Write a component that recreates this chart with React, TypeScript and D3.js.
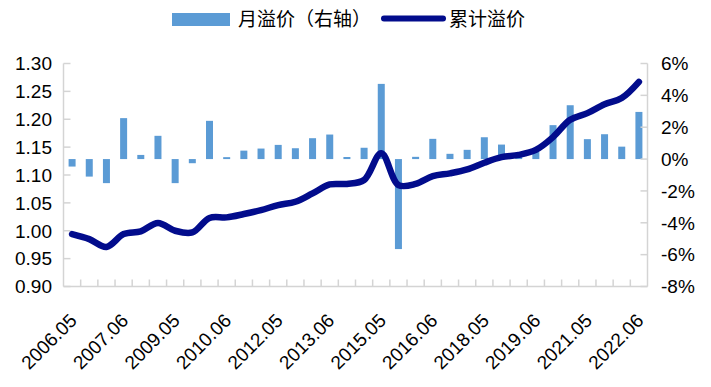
import * as d3 from "d3";
import { useEffect, useRef } from "react";

const categories = [
  "2006.05", "2006.06", "2007.05", "2007.06", "2008.05", "2008.06",
  "2009.05", "2009.06", "2010.05", "2010.06", "2011.05", "2011.06",
  "2012.05", "2012.06", "2013.05", "2013.06", "2014.05", "2014.06",
  "2015.05", "2015.06", "2016.05", "2016.06", "2017.05", "2017.06",
  "2018.05", "2018.06", "2019.05", "2019.06", "2020.05", "2020.06",
  "2021.05", "2021.06", "2022.05", "2022.06",
];

// monthly premium, % (right axis)
const monthly = [
  -0.47, -1.1, -1.51, 2.57, 0.26, 1.46, -1.51, -0.26, 2.4, 0.12, 0.53, 0.66,
  0.89, 0.68, 1.31, 1.54, 0.13, 0.71, 4.72, -5.65, 0.14, 1.27, 0.33, 0.58,
  1.37, 0.91, 0.28, 0.45, 2.13, 3.38, 1.25, 1.56, 0.78, 2.96,
];

// cumulative premium (left axis)
const cumulative = [
  0.994, 0.985, 0.971, 0.994, 0.999, 1.014, 1.0, 0.997, 1.023, 1.024, 1.03,
  1.037, 1.046, 1.052, 1.067, 1.083, 1.084, 1.091, 1.139, 1.082, 1.084, 1.098,
  1.103, 1.11, 1.122, 1.132, 1.136, 1.145, 1.168, 1.199, 1.211, 1.227, 1.238,
  1.267,
];

const leftTicks = [0.9, 0.95, 1.0, 1.05, 1.1, 1.15, 1.2, 1.25, 1.3];
const rightTicks = [-8, -6, -4, -2, 0, 2, 4, 6];
const labelEvery = 3;

const legendItems = ["月溢价（右轴）", "累计溢价"];

export default function App() {
  const ref = useRef<SVGSVGElement>(null);
  const width = 711;
  const height = 387;
  const m = { left: 63.5, right: 647.5, top: 63.5, bottom: 286.5 };

  useEffect(() => {
    const svg = d3.select(ref.current);
    svg.selectAll("*").remove();

    const numFont = "'Liberation Sans', Arial, sans-serif";
    const cjkFont = "'Noto Sans CJK SC', sans-serif";
    const axisColor = "#d4d4d4";
    const barColor = "#5b9bd5";
    const lineColor = "#020c8c";

    const x = d3
      .scaleBand()
      .domain(categories)
      .range([m.left, m.right])
      .paddingInner(0)
      .paddingOuter(0);
    const yL = d3.scaleLinear().domain([0.9, 1.3]).range([m.bottom, m.top]);
    const yR = d3.scaleLinear().domain([-8, 6]).range([m.bottom, m.top]);

    const barW = 7;
    const cx = (c: string) => (x(c) ?? 0) + x.bandwidth() / 2;

    // bars
    svg
      .append("g")
      .selectAll("rect")
      .data(monthly)
      .join("rect")
      .attr("x", (_, i) => cx(categories[i]) - barW / 2)
      .attr("width", barW)
      .attr("y", (d) => Math.min(yR(d), yR(0)))
      .attr("height", (d) => Math.abs(yR(d) - yR(0)))
      .attr("fill", barColor);

    // axes
    const ax = svg.append("g").attr("stroke", axisColor).attr("stroke-width", 1.5);
    ax.append("line")
      .attr("x1", m.left).attr("x2", m.left)
      .attr("y1", m.top).attr("y2", m.bottom);
    ax.append("line")
      .attr("x1", m.right).attr("x2", m.right)
      .attr("y1", m.top).attr("y2", m.bottom);
    ax.append("line")
      .attr("x1", m.left).attr("x2", m.right)
      .attr("y1", m.bottom).attr("y2", m.bottom);

    ax.selectAll(".lt")
      .data(leftTicks)
      .join("line")
      .attr("x1", m.left).attr("x2", m.left + 7)
      .attr("y1", (d) => yL(d)).attr("y2", (d) => yL(d));
    ax.selectAll(".rt")
      .data(rightTicks)
      .join("line")
      .attr("x1", m.right - 7).attr("x2", m.right)
      .attr("y1", (d) => yR(d)).attr("y2", (d) => yR(d));
    ax.selectAll(".xt")
      .data(categories.slice(1))
      .join("line")
      .attr("x1", (d) => x(d) ?? 0).attr("x2", (d) => x(d) ?? 0)
      .attr("y1", m.bottom - 7).attr("y2", m.bottom);

    // tick labels
    svg
      .append("g")
      .selectAll("text")
      .data(leftTicks)
      .join("text")
      .attr("x", 52)
      .attr("y", (d) => yL(d))
      .attr("dy", "0.36em")
      .attr("text-anchor", "end")
      .attr("font-family", numFont)
      .attr("font-size", 19)
      .attr("fill", "#000")
      .text((d) => d3.format(".2f")(d));

    svg
      .append("g")
      .selectAll("text")
      .data(rightTicks)
      .join("text")
      .attr("x", 661)
      .attr("y", (d) => yR(d))
      .attr("dy", "0.36em")
      .attr("text-anchor", "start")
      .attr("font-family", numFont)
      .attr("font-size", 19)
      .attr("fill", "#000")
      .text((d) => `${d}%`);

    svg
      .append("g")
      .selectAll("text")
      .data(categories.filter((_, i) => i % labelEvery === 0))
      .join("text")
      .attr("transform", (d) => `translate(${cx(d) + 1},317) rotate(-45)`)
      .attr("dy", "0.36em")
      .attr("text-anchor", "end")
      .attr("font-family", numFont)
      .attr("font-size", 19)
      .attr("fill", "#000")
      .text((d) => d);

    // cumulative line
    const line = d3
      .line<number>()
      .x((_, i) => cx(categories[i]))
      .y((d) => yL(d))
      .curve(d3.curveCatmullRom.alpha(0.5));

    svg
      .append("path")
      .attr("d", line(cumulative))
      .attr("fill", "none")
      .attr("stroke", lineColor)
      .attr("stroke-width", 6.5)
      .attr("stroke-linecap", "round")
      .attr("stroke-linejoin", "round");

    // legend
    const lg = svg.append("g");
    lg.append("rect")
      .attr("x", 172).attr("y", 13)
      .attr("width", 58).attr("height", 13)
      .attr("fill", barColor);
    lg.append("text")
      .attr("x", 238).attr("y", 19)
      .attr("dy", "0.36em")
      .attr("font-family", cjkFont)
      .attr("font-size", 19)
      .attr("fill", "#000")
      .text(legendItems[0]);
    lg.append("line")
      .attr("x1", 384).attr("x2", 443)
      .attr("y1", 18.5).attr("y2", 18.5)
      .attr("stroke", lineColor)
      .attr("stroke-width", 6)
      .attr("stroke-linecap", "round");
    lg.append("text")
      .attr("x", 449).attr("y", 19)
      .attr("dy", "0.36em")
      .attr("font-family", cjkFont)
      .attr("font-size", 19)
      .attr("fill", "#000")
      .text(legendItems[1]);
  }, []);

  return (
    <svg
      ref={ref}
      width={width}
      height={height}
      viewBox={`0 0 ${width} ${height}`}
      style={{ position: "absolute", left: 0, top: 0, background: "#fff" }}
    />
  );
}
